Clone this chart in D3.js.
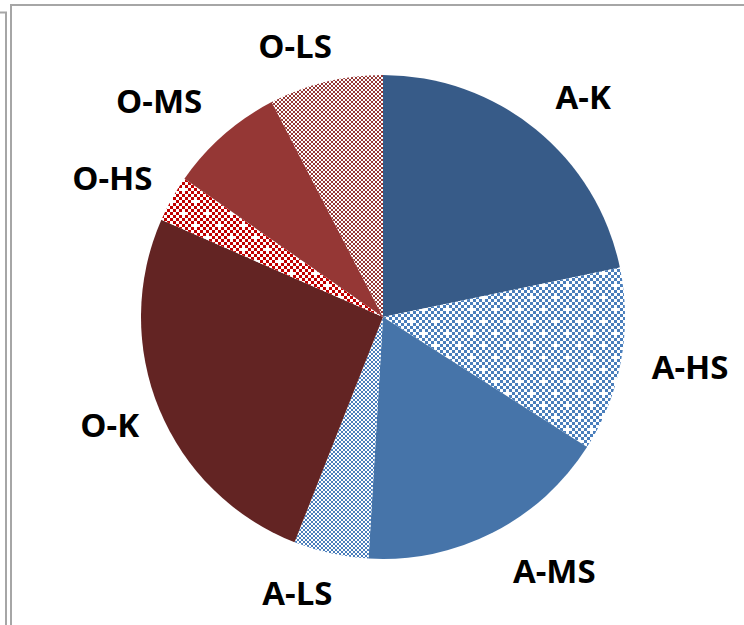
<!DOCTYPE html>
<html><head><meta charset="utf-8">
<script src="https://cdn.jsdelivr.net/npm/d3@7"></script>
<style>body{margin:0;background:#fff}svg{display:block}</style>
</head><body>
<script>
const categories = ["A-K","A-HS","A-MS","A-LS","O-K","O-HS","O-MS","O-LS"];
const values = [21.7,12.3,16.9,5.0,25.6,3.1,7.7,7.6];
const fills = ["#375b88","url(#pHSblue)","#4674a9","url(#pLSblue)","#632423","url(#pHSred)","#953735","url(#pLSred)"];

const W=744,H=625, cx=383, cy=317, R=242;
// label layout: placed at mid angle, with small best-fit nudges
const labelRadius=300;
const labelNudge=[[11,13],[12,-4],[35,-13],[-21,-17],[4,-6],[-9,8],[-26,10],[-17,21]];

const svg=d3.select("body").append("svg").attr("width",W).attr("height",H);
const defs=svg.append("defs");

function bigChecker(id,color){
  const p=defs.append("pattern").attr("id",id).attr("patternUnits","userSpaceOnUse")
    .attr("width",24).attr("height",24);
  p.append("rect").attr("width",24).attr("height",24).attr("fill","#fff");
  const removed=new Set(["1,1","5,5"]);
  for(let i=0;i<8;i++)for(let j=0;j<8;j++){
    if((i+j)%2===0 && !removed.has(i+","+j))
      p.append("rect").attr("x",i*3).attr("y",j*3).attr("width",3).attr("height",3).attr("fill",color);
  }
}
function smallChecker(id,color){
  const p=defs.append("pattern").attr("id",id).attr("patternUnits","userSpaceOnUse")
    .attr("width",4).attr("height",4);
  p.append("rect").attr("width",4).attr("height",4).attr("fill","#fff");
  p.append("rect").attr("x",0).attr("y",0).attr("width",2).attr("height",2).attr("fill",color);
  p.append("rect").attr("x",2).attr("y",2).attr("width",2).attr("height",2).attr("fill",color);
}
bigChecker("pHSblue","#4a7ebb");
bigChecker("pHSred","#c00000");
smallChecker("pLSblue","#4a7ebb");
smallChecker("pLSred","#953735");

// frames
const frame=svg.append("g").attr("fill","none").attr("stroke","#a6a6a6").attr("stroke-width",2);
frame.append("path").attr("d",`M0,12.5H6V${H}`);
frame.append("path").attr("d",`M11,${H}V5H${W}`);

const pie=d3.pie().sort(null).value(d=>d)(values);
const arc=d3.arc().innerRadius(0).outerRadius(R);
const g=svg.append("g").attr("transform",`translate(${cx},${cy})`);
g.selectAll("path.slice").data(pie).enter().append("path").attr("class","slice")
  .attr("d",arc).attr("fill",(d,i)=>fills[i]);

g.selectAll("text").data(pie).enter().append("text")
  .attr("x",(d,i)=>{const a=(d.startAngle+d.endAngle)/2;return Math.sin(a)*labelRadius+labelNudge[i][0];})
  .attr("y",(d,i)=>{const a=(d.startAngle+d.endAngle)/2;return -Math.cos(a)*labelRadius+labelNudge[i][1];})
  .attr("text-anchor","middle").attr("dy","0.36em")
  .attr("font-family","'Open Sans',sans-serif").attr("font-weight","bold").attr("font-size",33)
  .attr("fill","#000").text((d,i)=>categories[i]);
</script>
</body></html>
